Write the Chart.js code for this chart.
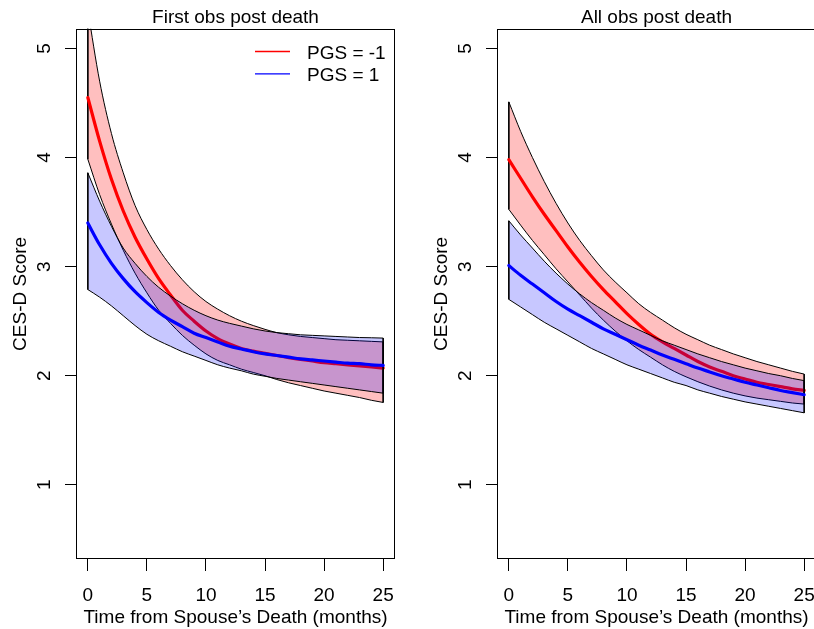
<!DOCTYPE html>
<html>
<head>
<meta charset="utf-8">
<script src="https://cdn.jsdelivr.net/npm/chart.js@4"></script>
<style>
  html, body { margin: 0; padding: 0; background: #fff; overflow: hidden; }
  #wrap { position: relative; width: 814px; height: 629px; overflow: hidden; }
  .panel { position: absolute; top: 0; width: 410px; height: 629px; }
</style>
</head>
<body>
<div id="wrap">
  <div class="panel" style="left:0"><canvas id="first" width="410" height="629"></canvas></div>
  <div class="panel" style="left:421px"><canvas id="all" width="410" height="629"></canvas></div>
</div>
<script>
// months since the spouse's death, one point per month
const months = [0,1,2,3,4,5,6,7,8,9,10,11,12,13,14,15,16,17,18,19,20,21,22,23,24,25];
const xTicks = [0, 5, 10, 15, 20, 25];
const yTicks = [1, 2, 3, 4, 5];

// left panel: first obs post death
const firstRedMean  = [4.55,4.15,3.80,3.51,3.27,3.07,2.89,2.74,2.60,2.50,2.41,2.34,2.29,2.25,2.225,2.205,2.185,2.165,2.15,2.135,2.12,2.11,2.10,2.09,2.08,2.07];
const firstRedUpper = [5.35,4.70,4.22,3.86,3.56,3.34,3.16,3.01,2.88,2.77,2.68,2.61,2.55,2.50,2.46,2.425,2.395,2.375,2.36,2.35,2.34,2.33,2.325,2.32,2.315,2.31];
const firstRedLower = [3.985,3.66,3.39,3.15,2.94,2.76,2.60,2.48,2.37,2.28,2.20,2.14,2.10,2.06,2.03,2.00,1.965,1.935,1.91,1.885,1.86,1.84,1.82,1.80,1.775,1.755];
const firstBlueMean  = [3.40,3.20,3.03,2.89,2.77,2.67,2.58,2.51,2.45,2.39,2.35,2.31,2.27,2.245,2.22,2.20,2.185,2.17,2.155,2.145,2.135,2.125,2.115,2.11,2.10,2.094];
const firstBlueUpper = [3.86,3.60,3.37,3.17,3.03,2.91,2.81,2.73,2.66,2.60,2.55,2.51,2.48,2.455,2.43,2.41,2.395,2.385,2.375,2.37,2.365,2.36,2.355,2.35,2.348,2.345];
const firstBlueLower = [2.79,2.72,2.64,2.55,2.46,2.38,2.32,2.27,2.22,2.18,2.14,2.10,2.07,2.045,2.015,1.995,1.975,1.96,1.945,1.93,1.915,1.90,1.885,1.87,1.855,1.84];

// right panel: all obs post death
const allRedMean  = [3.98,3.81,3.64,3.48,3.33,3.18,3.04,2.91,2.79,2.68,2.57,2.47,2.38,2.31,2.25,2.19,2.13,2.08,2.04,2.00,1.97,1.94,1.92,1.90,1.88,1.865];
const allRedUpper = [4.51,4.24,4.00,3.78,3.58,3.40,3.24,3.10,2.97,2.86,2.76,2.66,2.58,2.51,2.44,2.38,2.33,2.28,2.24,2.20,2.165,2.13,2.10,2.07,2.04,2.015];
const allRedLower = [3.525,3.38,3.24,3.11,2.98,2.86,2.74,2.62,2.51,2.41,2.32,2.24,2.17,2.10,2.04,1.99,1.945,1.905,1.87,1.84,1.815,1.795,1.78,1.765,1.75,1.74];
const allBlueMean  = [3.01,2.92,2.84,2.76,2.68,2.61,2.55,2.49,2.43,2.38,2.33,2.28,2.235,2.19,2.15,2.11,2.07,2.035,2.00,1.97,1.94,1.915,1.89,1.865,1.845,1.826];
const allBlueUpper = [3.42,3.29,3.17,3.05,2.94,2.84,2.75,2.67,2.60,2.53,2.47,2.42,2.37,2.32,2.28,2.24,2.20,2.165,2.13,2.10,2.07,2.045,2.02,2.00,1.975,1.955];
const allBlueLower = [2.70,2.63,2.56,2.49,2.43,2.37,2.31,2.25,2.20,2.15,2.10,2.06,2.02,1.98,1.94,1.91,1.87,1.84,1.81,1.785,1.76,1.74,1.72,1.70,1.68,1.66];

const legendLabels = ["PGS = -1", "PGS = 1"];

const FONT = "'Liberation Sans', Arial, Helvetica, sans-serif";
const RED = "#ff0000", BLUE = "#0000ff";
const PINK = "rgba(255,0,0,0.25)", LILAC = "rgba(0,0,255,0.22)";

const pts = vals => months.map((m, i) => ({ x: m, y: vals[i] }));
const edge = (upper, lower, i) => [{ x: months[i], y: upper[i] }, { x: months[i], y: lower[i] }];

// a shaded band with black outline, like R's polygon()
function band(upper, lower, fillColor, order, base) {
  const line = { borderColor: "#000", borderWidth: 1, pointRadius: 0, clip: 0 };
  const side = { ...line, fill: false, order: order - 1, cubicInterpolationMode: "default", tension: 0 };
  const last = months.length - 1;
  return [
    { ...line, data: pts(upper), fill: { target: base + 1 }, backgroundColor: fillColor, order },
    { ...line, data: pts(lower), fill: false, order: order - 1 },
    { ...side, data: edge(upper, lower, 0) },
    { ...side, data: edge(upper, lower, last) }
  ];
}

function meanLine(vals, color, order) {
  return { data: pts(vals), borderColor: color, borderWidth: 3.2, pointRadius: 0, fill: false,
           borderCapStyle: "round", borderJoinStyle: "round", clip: 0, order };
}

const frame = {
  id: "frame",
  afterDatasetsDraw(chart) {
    const { ctx, chartArea: a } = chart;
    ctx.save();
    ctx.strokeStyle = "#000";
    ctx.lineWidth = 1;
    const l = Math.round(a.left) + 0.5, t = Math.round(a.top) + 0.5;
    const r = Math.round(a.right) - 0.5, b = Math.round(a.bottom) - 0.5;
    ctx.strokeRect(l, t, r - l, b - t);
    ctx.restore();
  }
};

// R-style y labels, parallel to the axis
const yLabels = {
  id: "yLabels",
  afterDraw(chart) {
    const { ctx, chartArea: a } = chart;
    const s = chart.scales.y;
    ctx.save();
    ctx.font = "19px " + FONT;
    ctx.fillStyle = "#000";
    ctx.textAlign = "center";
    ctx.textBaseline = "alphabetic";
    s.ticks.forEach(t => {
      ctx.save();
      ctx.translate(a.left - 26, s.getPixelForValue(t.value));
      ctx.rotate(-Math.PI / 2);
      ctx.fillText(String(t.value), 0, 0);
      ctx.restore();
    });
    ctx.restore();
  }
};

const keyBox = {
  id: "keyBox",
  afterDraw(chart) {
    const { ctx, chartArea: a } = chart;
    const colors = [RED, BLUE];
    ctx.save();
    ctx.font = "19px " + FONT;
    ctx.fillStyle = "#000";
    ctx.textBaseline = "alphabetic";
    ctx.lineWidth = 1.3;
    legendLabels.forEach((lab, i) => {
      const y = a.top + 22.7 + i * 22.3;
      ctx.strokeStyle = colors[i];
      ctx.beginPath();
      ctx.moveTo(a.right - 140, y);
      ctx.lineTo(a.right - 105, y);
      ctx.stroke();
      ctx.fillText(lab, a.right - 88, y + 7);
    });
    ctx.restore();
  }
};

function makePanel(id, title, s, withKey) {
  const datasets = [
    ...band(s.redUpper, s.redLower, PINK, 10, 0),
    meanLine(s.redMean, RED, 8),
    ...band(s.blueUpper, s.blueLower, LILAC, 7, 5),
    meanLine(s.blueMean, BLUE, 5)
  ];
  const tickFont = { family: FONT, size: 19 };
  return new Chart(document.getElementById(id), {
    type: "line",
    data: { datasets },
    options: {
      responsive: false,
      animation: false,
      events: [],
      layout: { padding: { left: 0, right: 15, top: 0, bottom: 0 } },
      elements: { line: { cubicInterpolationMode: "monotone" } },
      plugins: {
        legend: { display: false },
        tooltip: { enabled: false },
        title: {
          display: true, text: title, fullSize: false, color: "#000",
          font: { family: FONT, size: 19, weight: "normal", lineHeight: 1.2 },
          padding: { top: 6, bottom: 0 }
        }
      },
      scales: {
        x: {
          type: "linear", min: -1, max: 26,
          afterBuildTicks: sc => { sc.ticks = xTicks.map(v => ({ value: v })); },
          afterFit: sc => { sc.height = 70; },
          grid: { drawOnChartArea: false, drawTicks: true, tickLength: 12, color: "#000", lineWidth: 1 },
          border: { display: false },
          ticks: { color: "#000", font: tickFont, padding: 13, maxRotation: 0, autoSkip: false },
          title: {
            display: true, text: "Time from Spouse\u2019s Death (months)", color: "#000",
            font: { family: FONT, size: 19, lineHeight: 1 }, padding: { top: 0, bottom: 2 }
          }
        },
        y: {
          type: "linear", min: 0.32, max: 5.18,
          afterBuildTicks: sc => { sc.ticks = yTicks.map(v => ({ value: v })); },
          afterFit: sc => { sc.width = 76; },
          grid: { drawOnChartArea: false, drawTicks: true, tickLength: 11, color: "#000", lineWidth: 1 },
          border: { display: false },
          ticks: { display: false },
          title: {
            display: true, text: "CES-D Score", color: "#000",
            font: { family: FONT, size: 19, lineHeight: 1 }, padding: { top: 11, bottom: 0 }
          }
        }
      }
    },
    plugins: withKey ? [frame, yLabels, keyBox] : [frame, yLabels]
  });
}

makePanel("first", "First obs post death", {
  redMean: firstRedMean, redUpper: firstRedUpper, redLower: firstRedLower,
  blueMean: firstBlueMean, blueUpper: firstBlueUpper, blueLower: firstBlueLower
}, true);

makePanel("all", "All obs post death", {
  redMean: allRedMean, redUpper: allRedUpper, redLower: allRedLower,
  blueMean: allBlueMean, blueUpper: allBlueUpper, blueLower: allBlueLower
}, false);
</script>
</body>
</html>
